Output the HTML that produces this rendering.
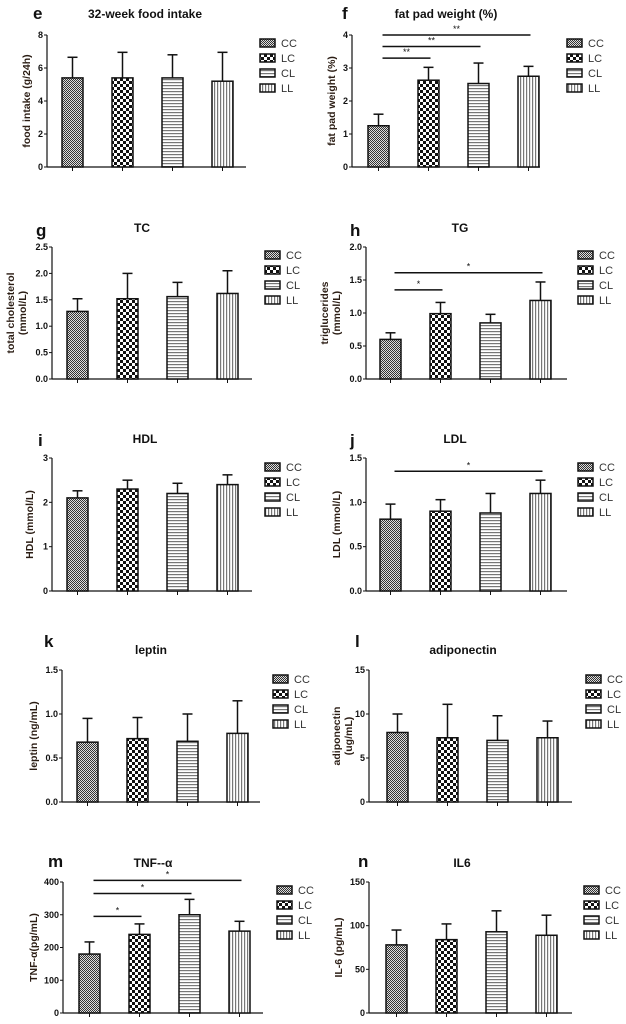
<!DOCTYPE html>
<html><head><meta charset="utf-8"><style>
html,body{margin:0;padding:0;background:#fff;}
svg{display:block;font-family:"Liberation Sans",Arial,sans-serif;}
</style></head><body>
<svg id="fig" width="626" height="1024" viewBox="0 0 626 1024">
<defs>
<pattern id="pCC" width="2" height="2" patternUnits="userSpaceOnUse"><rect width="2" height="2" fill="#ddd"/><rect width="1" height="1" fill="#333"/><rect x="1" y="1" width="1" height="1" fill="#333"/></pattern>
<pattern id="pLC" width="6" height="6" patternUnits="userSpaceOnUse"><rect width="6" height="6" fill="#fff"/><rect width="3" height="3" fill="#111"/><rect x="3" y="3" width="3" height="3" fill="#111"/></pattern>
<pattern id="pCL" width="3" height="3" patternUnits="userSpaceOnUse"><rect width="3" height="3" fill="#fff"/><rect y="1" width="3" height="1.2" fill="#777"/></pattern>
<pattern id="pLL" width="3" height="3" patternUnits="userSpaceOnUse"><rect width="3" height="3" fill="#fff"/><rect x="1" width="1.2" height="3" fill="#777"/></pattern>
</defs>
</svg>
<script>
const groups = ["CC","LC","CL","LL"];
const eMeans = [5.4,5.4,5.4,5.2];      const eErr = [6.65,6.95,6.8,6.95];   const eTicks = [0,2,4,6,8];
const fMeans = [1.25,2.63,2.53,2.75];  const fErr = [1.6,3.02,3.15,3.05];   const fTicks = [0,1,2,3,4];
const gMeans = [1.28,1.52,1.56,1.62];  const gErr = [1.52,2.0,1.83,2.05];   const gTicks = [0,0.5,1.0,1.5,2.0,2.5];
const hMeans = [0.6,0.99,0.85,1.19];   const hErr = [0.7,1.16,0.98,1.47];   const hTicks = [0,0.5,1.0,1.5,2.0];
const iMeans = [2.1,2.3,2.2,2.4];      const iErr = [2.26,2.5,2.43,2.62];   const iTicks = [0,1,2,3];
const jMeans = [0.81,0.9,0.88,1.1];    const jErr = [0.98,1.03,1.1,1.25];   const jTicks = [0,0.5,1.0,1.5];
const kMeans = [0.68,0.72,0.69,0.78];  const kErr = [0.95,0.96,1.0,1.15];   const kTicks = [0,0.5,1.0,1.5];
const lMeans = [7.9,7.3,7.0,7.3];      const lErr = [10.0,11.1,9.8,9.2];    const lTicks = [0,5,10,15];
const mMeans = [180,240,300,250];      const mErr = [217,272,347,280];      const mTicks = [0,100,200,300,400];
const nMeans = [78,84,93,89];          const nErr = [95,102,117,112];       const nTicks = [0,50,100,150];
const fSig = [[0,1,3.3,"**"],[0,2,3.65,"**"],[0,3,4.0,"**"]];
const hSig = [[0,1,1.35,"*"],[0,3,1.61,"*"]];
const jSig = [[0,3,1.35,"*"]];
const mSig = [[0,1,295,"*"],[0,2,365,"*"],[0,3,405,"*"]];

const NS="http://www.w3.org/2000/svg";
const svg=document.getElementById('fig');
function mk(tag,attrs,parent,text){const e=document.createElementNS(NS,tag);for(const k in attrs)e.setAttribute(k,attrs[k]);if(text!==undefined)e.textContent=text;(parent||svg).appendChild(e);return e;}

const panels=[
 {id:"e",means:eMeans,err:eErr,ticks:eTicks,dec:0,sig:[],ax:47,top:35,bot:167,b0:62,xe:246,lx:260,ly:43,title:"32-week food intake",tx:145,ty:18,letx:33,lety:19,yl:["food intake (g/24h)"],ylx:30},
 {id:"f",means:fMeans,err:fErr,ticks:fTicks,dec:0,sig:fSig,ax:352,top:35,bot:167,b0:368,xe:540,lx:567,ly:43,title:"fat pad weight (%)",tx:446,ty:18,letx:342,lety:19,yl:["fat pad weight (%)"],ylx:335},
 {id:"g",means:gMeans,err:gErr,ticks:gTicks,dec:1,sig:[],ax:52,top:247,bot:379,b0:67,xe:252,lx:265,ly:255,title:"TC",tx:142,ty:232,letx:36,lety:236,yl:["total cholesterol","(mmol/L)"],ylx:14},
 {id:"h",means:hMeans,err:hErr,ticks:hTicks,dec:1,sig:hSig,ax:366,top:247,bot:379,b0:380,xe:567,lx:578,ly:255,title:"TG",tx:460,ty:232,letx:350,lety:236,yl:["triglucerides","(mmol/L)"],ylx:328},
 {id:"i",means:iMeans,err:iErr,ticks:iTicks,dec:0,sig:[],ax:52,top:458,bot:591,b0:67,xe:252,lx:265,ly:467,title:"HDL",tx:145,ty:443,letx:38,lety:446,yl:["HDL (mmol/L)"],ylx:33},
 {id:"j",means:jMeans,err:jErr,ticks:jTicks,dec:1,sig:jSig,ax:366,top:458,bot:591,b0:380,xe:567,lx:578,ly:467,title:"LDL",tx:455,ty:443,letx:350,lety:446,yl:["LDL (mmol/L)"],ylx:340},
 {id:"k",means:kMeans,err:kErr,ticks:kTicks,dec:1,sig:[],ax:62,top:670,bot:802,b0:77,xe:260,lx:273,ly:679,title:"leptin",tx:151,ty:654,letx:44,lety:647,yl:["leptin (ng/mL)"],ylx:37},
 {id:"l",means:lMeans,err:lErr,ticks:lTicks,dec:0,sig:[],ax:369,top:670,bot:802,b0:387,xe:572,lx:586,ly:679,title:"adiponectin",tx:463,ty:654,letx:355,lety:647,yl:["adiponectin","(ug/mL)"],ylx:340},
 {id:"m",means:mMeans,err:mErr,ticks:mTicks,dec:0,sig:mSig,ax:63,top:882,bot:1013,b0:79,xe:263,lx:277,ly:890,title:"TNF--α",tx:153,ty:867,letx:48,lety:867,yl:["TNF-α(pg/mL)"],ylx:37},
 {id:"n",means:nMeans,err:nErr,ticks:nTicks,dec:0,sig:[],ax:369,top:882,bot:1013,b0:386,xe:572,lx:584,ly:890,title:"IL6",tx:462,ty:867,letx:358,lety:867,yl:["IL-6 (pg/mL)"],ylx:342}
];

panels.forEach(p=>{
 const g=mk('g',{});
 
 
 const ymax=p.ticks[p.ticks.length-1];
 const Y=v=>p.bot-(v/ymax)*(p.bot-p.top);
 const bw=21, step=50;
 const X=i=>p.b0+i*step;
 const cx=i=>X(i)+bw/2;
 const letter=mk('text',{x:p.letx,y:p.lety,'font-size':17,'font-weight':'bold',fill:'#111'},g,p.id);
 
 
 const t=mk('text',{x:p.tx,y:p.ty,'font-size':12,'font-weight':'bold','text-anchor':'middle',fill:'#111'},g,p.title);
 
 
 const ymid=(p.top+p.bot)/2;
 const yl=mk('text',{transform:`translate(${p.ylx},${ymid}) rotate(-90)`,'font-size':10.5,'font-weight':'bold','text-anchor':'middle',fill:'#2b1d14'},g);
 
 
 p.yl.forEach((s,k)=>{mk('tspan',{x:0,y:k*12},yl,s);});
 const ya=mk('line',{x1:p.ax,y1:p.top,x2:p.ax,y2:p.bot,stroke:'#111','stroke-width':1.2},g);
 
 
 const xa=mk('line',{x1:p.ax,y1:p.bot,x2:p.xe,y2:p.bot,stroke:'#111','stroke-width':1.2},g);
 
 
 p.ticks.forEach(v=>{
  mk('line',{x1:p.ax-3,y1:Y(v),x2:p.ax,y2:Y(v),stroke:'#111','stroke-width':1},g);
  const tl=mk('text',{x:p.ax-4,y:Y(v)+3,'font-size':9,'font-weight':'bold','text-anchor':'end',fill:'#111'},g,v.toFixed(p.dec));
  
  
 });
 p.means.forEach((m,i)=>{
  const e=p.err[i];
  mk('line',{x1:cx(i),y1:Y(e),x2:cx(i),y2:Y(m),stroke:'#111','stroke-width':1.5},g);
  mk('line',{x1:cx(i)-5,y1:Y(e),x2:cx(i)+5,y2:Y(e),stroke:'#111','stroke-width':1.5},g);
  const b=mk('rect',{x:X(i),y:Y(m),width:bw,height:p.bot-Y(m),fill:`url(#p${groups[i]})`,stroke:'#111','stroke-width':1.5},g);
  
  
  mk('line',{x1:cx(i),y1:p.bot,x2:cx(i),y2:p.bot+4,stroke:'#111','stroke-width':1},g);
 });
 p.sig.forEach(s=>{
  const y=Y(s[2]);
  const x1=cx(s[0])+4, x2=cx(s[1])+2;
  const l=mk('line',{x1:x1,y1:y,x2:x2,y2:y,stroke:'#111','stroke-width':1.5},g);
  
  
  mk('text',{x:(x1+x2)/2,y:y-3,'font-size':9,'text-anchor':'middle',fill:'#111'},g,s[3]);
 });
 groups.forEach((gr,i)=>{
  const y=p.ly+i*15;
  const le=mk('g',{},g);
  
  
  mk('rect',{x:p.lx,y:y-4,width:15,height:8,fill:`url(#p${gr})`,stroke:'#111','stroke-width':1.5},le);
  mk('text',{x:p.lx+21,y:y+4,'font-size':11,fill:'#333'},le,gr);
 });
});
</script>
</body></html>
